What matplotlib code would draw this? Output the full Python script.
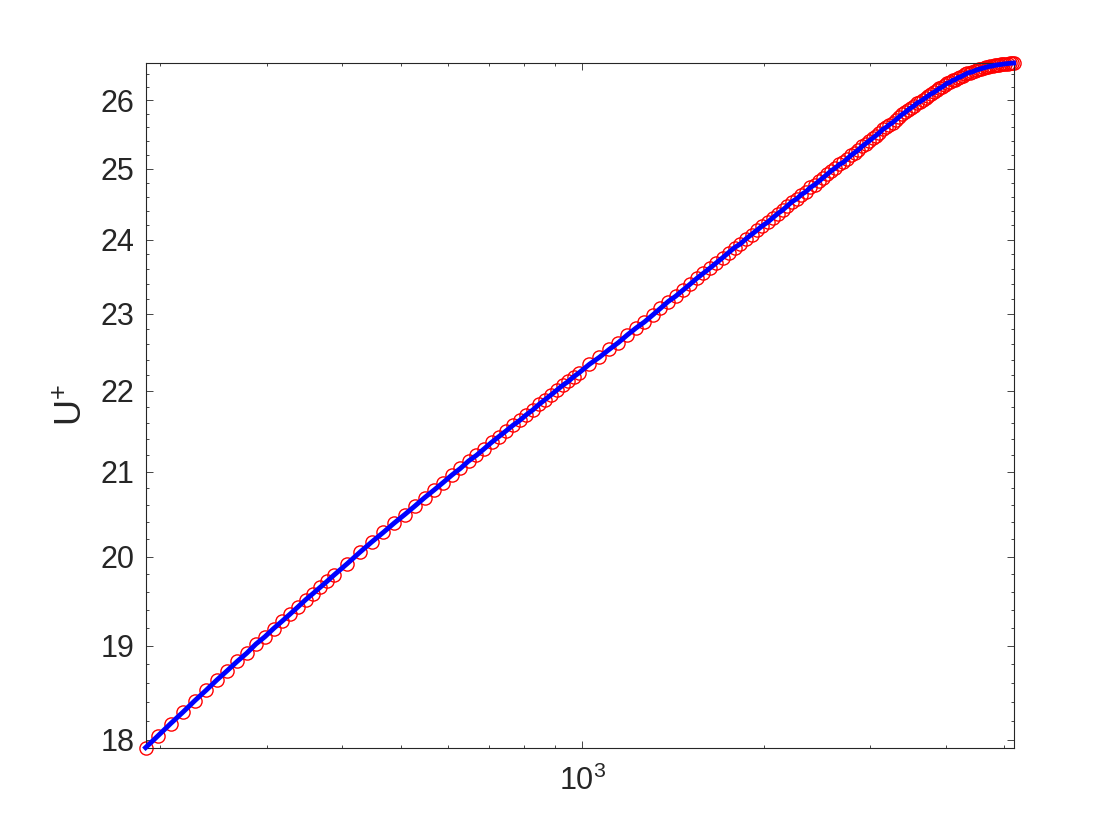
import matplotlib
matplotlib.use("Agg")
import matplotlib.pyplot as plt
from matplotlib.ticker import (FixedLocator, FixedFormatter, MultipleLocator,
                               LogLocator, NullFormatter)

# mean velocity profile U+ against y+
yplus = [189, 198, 208, 218, 228, 238, 248, 258, 268, 278, 288, 298, 308, 318,
         328, 338, 348, 358, 368, 378, 388,
         408, 428, 448, 468, 488, 508, 528, 548, 568, 588, 608, 628, 648, 668,
         688, 708, 728, 748, 768, 788, 808, 828, 848, 868, 888, 908, 928, 948,
         968, 988,
         1028, 1068, 1108, 1148, 1188, 1228, 1268, 1308, 1348, 1388, 1428,
         1468, 1508, 1548, 1588, 1628, 1668, 1708, 1748, 1788, 1828, 1868,
         1908, 1948, 1988, 2028, 2068, 2108, 2148, 2188, 2228, 2268, 2308,
         2348, 2388, 2428, 2468, 2508, 2548, 2588,
         2628, 2668, 2708, 2748, 2788, 2828, 2868, 2908, 2948, 2988, 3028,
         3068, 3108, 3148, 3188, 3228, 3268, 3308, 3348, 3388, 3428, 3468,
         3508, 3548, 3588, 3628, 3668, 3708, 3748, 3788, 3828, 3868, 3908,
         3948, 3988, 4028, 4068, 4108, 4148, 4188, 4228, 4268, 4308, 4348,
         4388, 4428, 4468, 4508, 4548, 4588, 4628, 4668, 4708, 4748, 4788,
         4828, 4868, 4908, 4948, 4988, 5028, 5068, 5108, 5148, 5186]
uplus = [17.92, 18.04, 18.17, 18.29, 18.41, 18.52, 18.63, 18.73, 18.83, 18.92,
         19.02, 19.10, 19.19, 19.27, 19.35, 19.43, 19.51, 19.58, 19.65, 19.72,
         19.79,
         19.92, 20.05, 20.17, 20.28, 20.39, 20.49, 20.59, 20.69, 20.78, 20.87,
         20.96, 21.04, 21.13, 21.20, 21.28, 21.36, 21.43, 21.50, 21.57, 21.63,
         21.70, 21.76, 21.83, 21.89, 21.95, 22.01, 22.07, 22.12, 22.18, 22.23,
         22.34, 22.43, 22.53, 22.62, 22.72, 22.81, 22.89, 22.98, 23.07, 23.16,
         23.23, 23.31, 23.39, 23.47, 23.54, 23.61, 23.68, 23.75, 23.82, 23.89,
         23.94, 24.01, 24.07, 24.13, 24.19, 24.24, 24.30, 24.36, 24.41, 24.47,
         24.53, 24.57, 24.63, 24.67, 24.73, 24.77, 24.82, 24.87, 24.92, 24.97,
         25.01, 25.06, 25.09, 25.14, 25.19, 25.23, 25.27, 25.32, 25.36, 25.40,
         25.44, 25.48, 25.52, 25.57, 25.60, 25.64, 25.67, 25.71, 25.75, 25.79,
         25.82, 25.86, 25.89, 25.92, 25.96, 25.98, 26.01, 26.04, 26.07, 26.10,
         26.12, 26.15, 26.18, 26.20, 26.23, 26.26, 26.27, 26.30, 26.31, 26.34,
         26.35, 26.37, 26.39, 26.41, 26.42, 26.43, 26.445, 26.46, 26.47, 26.48,
         26.49, 26.50, 26.51, 26.515, 26.52, 26.53, 26.535, 26.54, 26.545,
         26.55, 26.553, 26.557, 26.56, 26.562, 26.565]

u_ticks = [18, 19, 20, 21, 22, 23, 24, 25, 26]
u_labels = ["18", "19", "20", "21", "22", "23", "24", "25", "26"]

plt.rcParams['font.family'] = ['Liberation Sans', 'DejaVu Sans']
plt.rcParams['mathtext.fontset'] = 'custom'
plt.rcParams['mathtext.rm'] = 'Liberation Sans'
plt.rcParams['mathtext.it'] = 'Liberation Sans:italic'
plt.rcParams['mathtext.default'] = 'regular'

dark = "#262626"

fig = plt.figure(figsize=(11.2, 8.4), dpi=100)
ax = fig.add_axes([0.13, 0.11, 0.775, 0.815])

ax.plot(yplus, uplus, 'o', mfc='none', mec='red', ms=9.5, mew=1.0,
        clip_on=False, zorder=2)
ax.plot(yplus, uplus, '-', color='blue', lw=3.5, clip_on=False, zorder=3)

ax.set_xscale('log')
ax.set_yscale('log')
ax.set_xlim(yplus[0], yplus[-1])
ax.set_ylim(min(uplus), max(uplus))

ax.xaxis.set_major_locator(LogLocator(base=10))
ax.xaxis.set_minor_locator(LogLocator(base=10, subs=range(2, 10)))
ax.xaxis.set_minor_formatter(NullFormatter())

ax.yaxis.set_major_locator(FixedLocator(u_ticks))
ax.yaxis.set_major_formatter(FixedFormatter(u_labels))
ax.yaxis.set_minor_locator(MultipleLocator(0.2))
ax.yaxis.set_minor_formatter(NullFormatter())

ax.tick_params(which='both', direction='in', top=True, right=True,
               color=dark, labelcolor=dark, width=0.6)
ax.tick_params(which='major', length=5, labelsize=22)
ax.tick_params(which='minor', length=2.5)
ax.tick_params(axis='y', pad=8)
ax.tick_params(axis='x', pad=13)

for s in ax.spines.values():
    s.set_color(dark)
    s.set_linewidth(0.8)

ax.set_ylabel(r"U$^{+}$", fontsize=26, color=dark, labelpad=8)

fig.savefig("out.png", dpi=100)
